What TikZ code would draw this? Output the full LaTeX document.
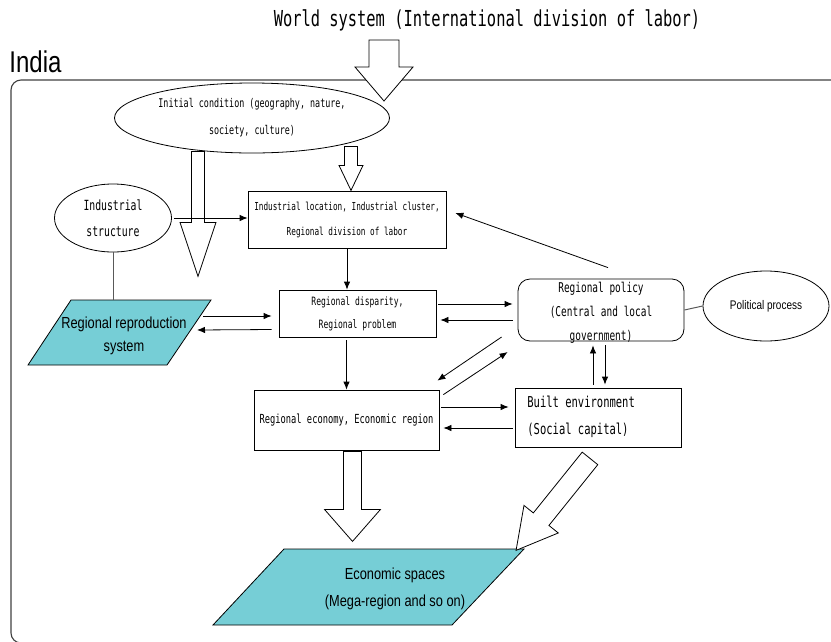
\documentclass[tikz,border=0pt]{standalone}
\usepackage{fontspec}
\usepackage{tikz}
\usetikzlibrary{calc,arrows,arrows.meta,shapes.geometric}
\newfontfamily\gothfont[FakeStretch=0.7]{DejaVu Sans Mono}
\newfontfamily\narrowfont[FakeStretch=0.8]{Liberation Sans}
\definecolor{parafill}{RGB}{118,206,214}
\newcommand{\gsize}[2]{\gothfont\fontsize{#1}{#2}\selectfont}
\newcommand{\nsize}[2]{\narrowfont\fontsize{#1}{#2}\selectfont}
% hollow arrow: start, angle, length, shaft half width, head half width, head length
\newcommand{\fatarrow}[6]{%
  \draw[fatline,shift={#1},rotate=#2] (0,-#4) -- ({#3-#6},-#4) -- ({#3-#6},-#5) -- (#3,0)
    -- ({#3-#6},#5) -- ({#3-#6},#4) -- (0,#4) -- cycle;}
\tikzset{
  box/.style={draw,rectangle,inner sep=0pt,align=center},
  oval/.style={draw,ellipse,inner sep=0pt,align=center},
  fatline/.style={draw,fill=white,line join=miter},
  link/.style={-{Latex[length=8pt,width=6.5pt]}},
  plain/.style={draw=gray!70!black,line width=1pt},
  para/.style={fill=parafill,draw=black}
}
\begin{document}
\begin{tikzpicture}[x=1pt,y=-1pt,line width=0.8pt]
  \useasboundingbox (0,0) rectangle (831,641);
  \clip (0,0) rectangle (831,641);
  \node[font=\gsize{22}{26}] (world) at (487,20) {World system (International division of labor)};
  \node[font=\nsize{30}{34},anchor=west,inner sep=0pt] (india) at (9,62) {India};
  \draw[rounded corners=10,draw=gray!50!black,line width=1.1pt] (11,80) rectangle (850,643);

  % nodes
  \node[oval,minimum width=275,minimum height=70,font=\gsize{12}{27}] (init) at (252,118)
    {Initial condition (geography, nature,\\society, culture)};
  \node[oval,minimum width=117,minimum height=68,font=\gsize{14}{26}] (indstr) at (113,218)
    {Industrial\\structure};
  \node[box,minimum width=198,minimum height=57,font=\gsize{11}{25}] (loc) at (347,219.5)
    {Industrial location, Industrial cluster,\\Regional division of labor};
  \node[box,minimum width=157,minimum height=47,font=\gsize{11.5}{23}] (disp) at (357.5,313.5)
    {Regional disparity,\\Regional problem};
  \node[box,minimum width=185,minimum height=60,font=\gsize{12.5}{15}] (econ) at (346.5,420)
    {Regional economy, Economic region};
  \node[box,minimum width=166,minimum height=59] (built) at (598,417.5) {};
  \node[font=\gsize{15}{27},align=left,anchor=west,inner sep=0pt] (builttxt) at (527,417)
    {Built environment\\(Social capital)};
  \node[box,rounded corners=12,minimum width=166,minimum height=62] (policy) at (601,310) {};
  \node[font=\gsize{13.5}{24},align=center,inner sep=0pt] (policytxt) at (601,313)
    {Regional policy\\(Central and local\\government)};
  \node[oval,minimum width=126,minimum height=70,font=\nsize{12.5}{15}] (pol) at (766,306)
    {Political process};

  % parallelograms
  \draw[para] (71,300) -- (211,300) -- (167,365) -- (28,365) -- cycle;
  \node[font=\nsize{16}{23},align=center] (rrs) at (124,336) {Regional reproduction\\system};
  \draw[para] (284,549) -- (524,549) -- (452,625) -- (213,625) -- cycle;
  \node[font=\nsize{16}{27},align=center] (space) at (395,589) {Economic spaces\\(Mega-region and so on)};
  \coordinate (rrstop) at (113,300);
  \coordinate (rrsA) at (203,316);
  \coordinate (rrsB) at (197,330);

  % hollow arrows
  \fatarrow{(384,40)}{-90}{61}{15}{29}{34}
  \fatarrow{($(init.south)+(99,-7)$)}{-90}{44}{6.5}{12}{25}
  \fatarrow{($(init.south)+(-54,-2)$)}{-90}{125}{6.5}{18}{54}
  \fatarrow{($(econ.south)+(6,1)$)}{-90}{90}{9}{28}{32}
  \fatarrow{($(built.south)+(-8,11)$)}{-128.8}{118}{10}{22}{40}

  % connectors
  \draw[link] ([xshift=2]indstr.east) -- (indstr.east -| loc.west);
  \draw[plain] (indstr.south) -- (rrstop);
  \draw[link] (loc.south) -- (loc.south |- disp.north);
  \draw[link] ($(econ.north |- disp.south)+(0,3)$) -- (econ.north);
  \draw[link] (rrsA) -- ($(disp.west)+(-7,2.5)$);
  \draw[link] ($(disp.west)+(-7,16)$) -- (rrsB);
  \draw[link] ($(disp.east)+(2,-9.5)$) -- ($(policy.west)+(-5,-6)$);
  \draw[link] ($(policy.west)+(-5,10)$) -- ($(disp.east)+(4,6.5)$);
  \draw[link] ($(policy.north)+(7,-11)$) -- ($(loc.east)+(9,-6.5)$);
  \draw[link] ($(policy.west)+(-16,27)$) -- ($(econ.north east)+(-2,-9)$);
  \draw[link] ($(econ.north east)+(4,5)$) -- ($(policy.west)+(-10,42)$);
  \draw[link] ($(built.north)+(-5,-3)$) -- ($(policy.south)+(-8,4)$);
  \draw[link] ($(policy.south)+(4,4)$) -- ($(built.north)+(7,-3)$);
  \draw[link] ($(econ.east)+(2,-13)$) -- ($(built.west)+(-6,-10.5)$);
  \draw[link] ($(built.west)+(-2,10.5)$) -- ($(econ.east)+(4,8)$);
  \draw[plain] (policy.east) -- (pol.west);
\end{tikzpicture}
\end{document}
